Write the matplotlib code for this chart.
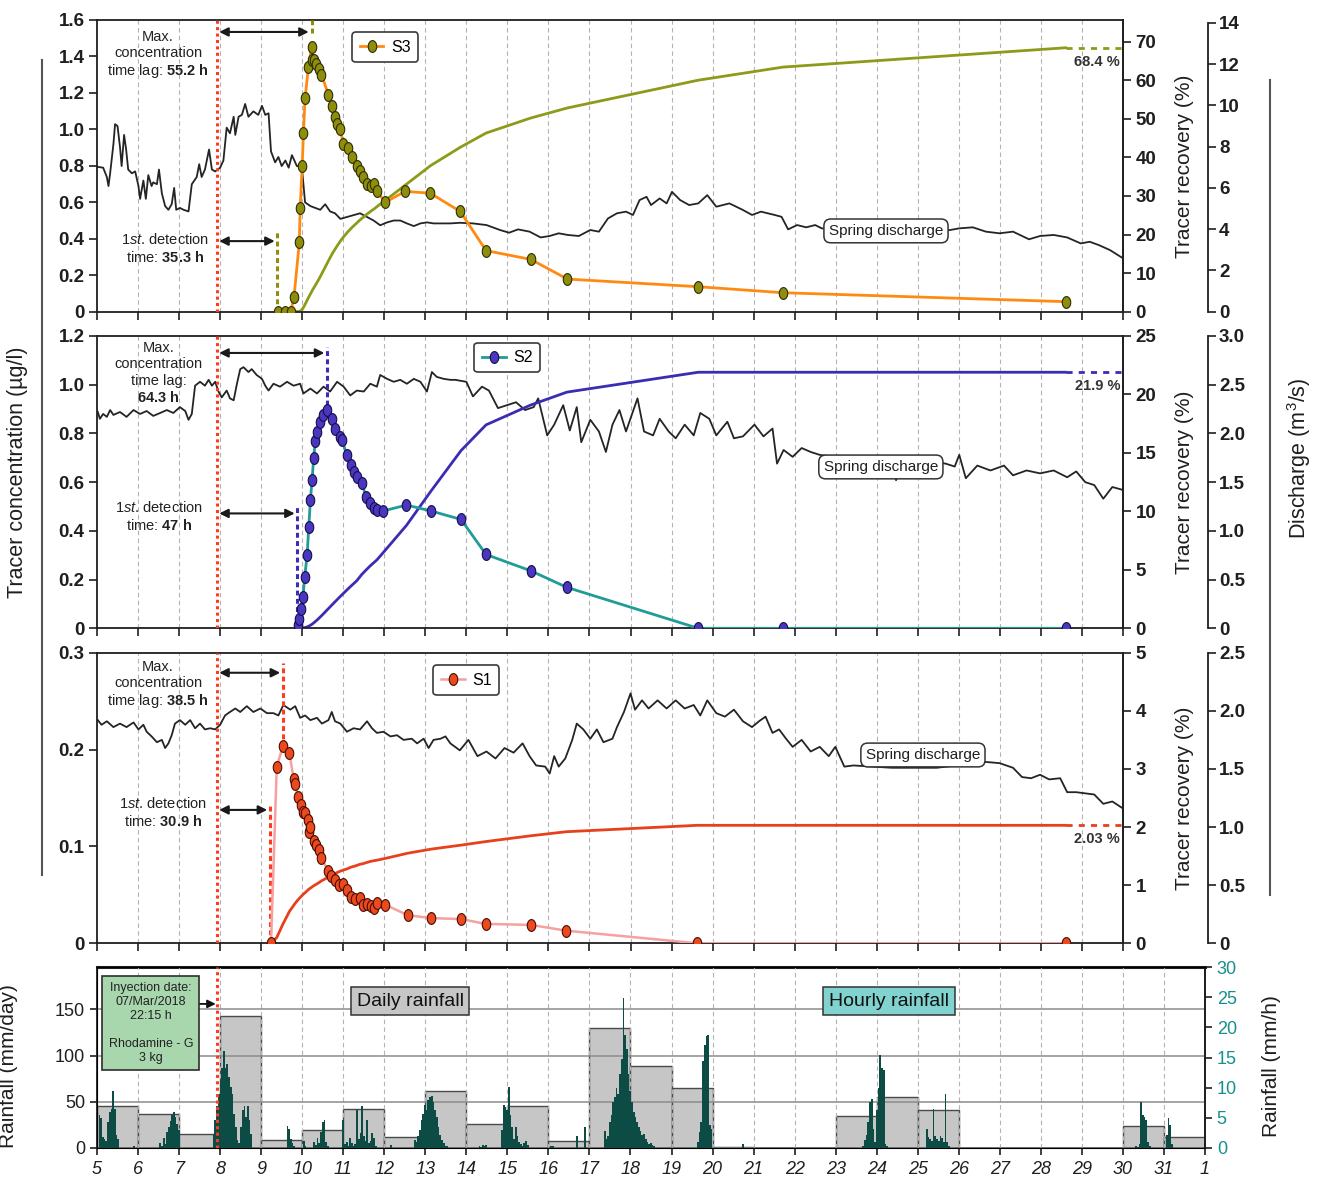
import numpy as np
import matplotlib
matplotlib.use("Agg")
import matplotlib.pyplot as plt
from matplotlib.path import Path
from matplotlib.lines import Line2D

plt.rcParams['font.family'] = ['Liberation Sans', 'DejaVu Sans']
plt.rcParams['mathtext.fontset'] = 'custom'
plt.rcParams['mathtext.rm'] = 'Liberation Sans'
plt.rcParams['mathtext.it'] = 'Liberation Sans:italic'
plt.rcParams['mathtext.bf'] = 'Liberation Sans:bold'

# ---------------------------------------------------------------- data
# time axis: day of March 2018 (day 32 = 1 April)
injection_day, injection_hour = 7, 22.25
t_inj = injection_day + injection_hour / 24.0

# hours after injection
lag_first = [35.3, 47, 30.9]      # S3, S2, S1
lag_max = [55.2, 64.3, 38.5]

# --- S3
s3_t = [9.41, 9.58, 9.72, 9.80, 9.93, 9.95, 10.00, 10.03, 10.07, 10.15,
        10.23, 10.25, 10.29, 10.34, 10.40, 10.47, 10.64, 10.73, 10.80, 10.86,
        10.93, 11.00, 11.12, 11.22, 11.34, 11.41, 11.49, 11.58, 11.68, 11.76,
        11.83, 12.02, 12.51, 13.12, 13.85, 14.48, 15.57, 16.46, 19.65, 21.72,
        28.60]
s3_conc = [0.0, 0.0, 0.0, 0.08, 0.38, 0.57, 0.80, 0.98, 1.17, 1.34,
           1.45, 1.38, 1.38, 1.36, 1.33, 1.30, 1.19, 1.13, 1.07, 1.03,
           1.00, 0.92, 0.90, 0.85, 0.80, 0.77, 0.74, 0.70, 0.69, 0.70,
           0.66, 0.60, 0.66, 0.65, 0.55, 0.335, 0.287, 0.179, 0.137, 0.104,
           0.055]
s3_recovery = [0, 0, 0, 0, 0.05, 0.1, 0.6, 1.1, 1.9, 3.6,
               5.2, 5.6, 6.3, 7.2, 8.3, 9.7, 13.2, 15.0, 16.2, 17.2,
               18.3, 19.3, 20.8, 21.9, 23.1, 23.8, 24.5, 25.3, 26.1, 26.7,
               27.3, 28.8, 32.8, 37.8, 42.6, 46.3, 50.2, 52.8, 60.0, 63.4,
               68.4]

# --- S2
s2_t = [9.89, 9.93, 9.98, 10.02, 10.06, 10.12, 10.16, 10.20, 10.24, 10.28,
        10.32, 10.36, 10.44, 10.50, 10.61, 10.72, 10.80, 10.91, 10.97, 11.09,
        11.20, 11.25, 11.33, 11.45, 11.56, 11.66, 11.74, 11.82, 11.98, 12.54,
        13.13, 13.87, 14.48, 15.57, 16.45, 19.65, 21.72, 28.60]
s2_conc = [0.013, 0.037, 0.078, 0.13, 0.21, 0.30, 0.417, 0.526, 0.608, 0.70,
           0.77, 0.806, 0.847, 0.875, 0.895, 0.861, 0.82, 0.786, 0.772, 0.711,
           0.67, 0.642, 0.622, 0.595, 0.54, 0.513, 0.492, 0.485, 0.482, 0.506,
           0.482, 0.447, 0.303, 0.236, 0.168, 0.0, 0.0, 0.0]
s2_recovery = [0, 0, 0.01, 0.03, 0.06, 0.12, 0.18, 0.26, 0.35, 0.46,
               0.58, 0.7, 0.97, 1.18, 1.58, 1.98, 2.27, 2.66, 2.87, 3.28,
               3.65, 3.81, 4.07, 4.6, 5.0, 5.35, 5.6, 5.85, 6.5, 8.8,
               11.7, 15.2, 17.4, 19.1, 20.2, 21.9, 21.9, 21.9]

# --- S1
s1_t = [9.24, 9.38, 9.53, 9.69, 9.79, 9.83, 9.90, 9.98, 10.02, 10.07,
        10.13, 10.16, 10.20, 10.28, 10.33, 10.40, 10.46, 10.64, 10.71, 10.80,
        10.89, 11.00, 11.09, 11.19, 11.29, 11.41, 11.48, 11.57, 11.67, 11.74,
        11.82, 12.02, 12.57, 13.14, 13.88, 14.47, 15.57, 16.44, 19.63, 28.60]
s1_conc = [0.0, 0.182, 0.204, 0.196, 0.170, 0.164, 0.151, 0.143, 0.136, 0.134,
           0.127, 0.115, 0.120, 0.106, 0.101, 0.096, 0.088, 0.075, 0.069, 0.065,
           0.060, 0.061, 0.055, 0.048, 0.046, 0.047, 0.040, 0.041, 0.038, 0.036,
           0.042, 0.040, 0.029, 0.026, 0.025, 0.020, 0.019, 0.013, 0.0, 0.0]
s1_recovery = [0, 0.1, 0.33, 0.55, 0.65, 0.69, 0.75, 0.81, 0.84, 0.87,
               0.91, 0.93, 0.95, 0.99, 1.01, 1.04, 1.07, 1.14, 1.17, 1.20,
               1.23, 1.26, 1.28, 1.31, 1.33, 1.36, 1.37, 1.39, 1.41, 1.42,
               1.43, 1.46, 1.55, 1.62, 1.69, 1.75, 1.85, 1.92, 2.03, 2.03]

# --- spring discharge (m3/s)
q3_day = [5.02, 5.15, 5.24, 5.28, 5.32, 5.40, 5.44, 5.50, 5.56, 5.60,
          5.66, 5.71, 5.76, 5.85, 5.93, 6.01, 6.05, 6.13, 6.19, 6.25,
          6.33, 6.37, 6.46, 6.51, 6.58, 6.66, 6.74, 6.82, 6.88, 6.93,
          7.02, 7.11, 7.23, 7.31, 7.43, 7.49, 7.55, 7.63, 7.73, 7.80,
          7.88, 8.00, 8.08, 8.16, 8.24, 8.33, 8.37, 8.45, 8.53, 8.61,
          8.69, 8.81, 8.93, 9.02, 9.10, 9.18, 9.24, 9.34, 9.42, 9.50,
          9.59, 9.67, 9.75, 9.87, 9.99, 10.07, 10.20, 10.32, 10.44, 10.56,
          10.68, 10.80, 10.93, 11.09, 11.25, 11.41, 11.58, 11.74, 11.90, 12.07,
          12.23, 12.39, 12.55, 12.72, 12.88, 13.04, 13.20, 13.37, 13.61, 13.84,
          14.16, 14.49, 14.82, 15.04, 15.26, 15.54, 15.81, 16.03, 16.25, 16.47,
          16.74, 17.02, 17.23, 17.45, 17.67, 17.89, 18.06, 18.22, 18.39, 18.50,
          18.71, 18.88, 19.01, 19.21, 19.43, 19.65, 19.87, 20.09, 20.41, 20.74,
          20.96, 21.18, 21.51, 21.68, 21.84, 22.06, 22.28, 22.50, 22.66, 23.20,
          23.81, 24.40, 24.91, 25.40, 25.79, 26.01, 26.34, 26.66, 26.99, 27.32,
          27.71, 27.98, 28.31, 28.64, 28.97, 29.19, 29.41, 29.68, 30.0]
q3_val = [7.02, 6.98, 6.53, 6.09, 6.71, 8.12, 9.09, 9.0, 7.99, 7.06,
          8.57, 7.86, 6.89, 6.71, 6.8, 6.09, 5.47, 6.36, 5.47, 6.62,
          6.09, 6.27, 6.18, 6.89, 5.74, 5.12, 4.94, 5.21, 6.0, 4.94,
          5.03, 4.94, 4.86, 6.18, 6.53, 7.15, 6.53, 6.89, 7.86, 6.89,
          6.8, 6.98, 7.33, 8.92, 8.65, 9.45, 8.57, 9.45, 9.54, 10.07,
          9.45, 9.71, 9.54, 9.98, 9.54, 9.62, 7.77, 7.24, 7.5, 7.06,
          7.33, 6.98, 7.59, 7.06, 7.06, 5.3, 5.12, 5.03, 4.94, 5.21,
          4.86, 4.77, 4.5, 4.59, 4.68, 4.77, 4.59, 4.42, 4.19, 4.33,
          4.42, 4.42, 4.28, 4.15, 4.28, 4.33, 4.28, 4.28, 4.28, 4.31,
          4.28, 4.2, 3.96, 3.83, 3.99, 3.88, 3.6, 3.67, 3.8, 3.72,
          3.67, 3.96, 3.88, 4.52, 4.77, 4.85, 4.69, 5.41, 5.57, 5.17,
          5.49, 5.25, 5.81, 5.41, 5.17, 5.25, 5.65, 5.09, 5.25, 4.93,
          4.69, 4.85, 4.69, 4.6, 3.99, 4.2, 4.09, 4.2, 4.04, 3.95,
          3.88, 3.92, 3.88, 3.92, 3.96, 4.04, 4.09, 3.88, 3.8, 3.88,
          3.51, 3.67, 3.72, 3.6, 3.31, 3.39, 3.23, 2.99, 2.59]

q2_day = [5.02, 5.07, 5.15, 5.24, 5.32, 5.40, 5.56, 5.72, 5.89, 6.05,
          6.21, 6.37, 6.54, 6.70, 6.86, 7.02, 7.15, 7.23, 7.31, 7.39,
          7.51, 7.63, 7.72, 7.80, 7.88, 7.96, 8.04, 8.16, 8.24, 8.33,
          8.41, 8.49, 8.57, 8.69, 8.77, 8.89, 9.02, 9.10, 9.18, 9.30,
          9.46, 9.63, 9.79, 9.95, 10.03, 10.20, 10.36, 10.52, 10.68, 10.85,
          11.01, 11.17, 11.33, 11.50, 11.66, 11.82, 11.90, 12.07, 12.23, 12.39,
          12.55, 12.72, 12.88, 13.04, 13.16, 13.28, 13.45, 13.61, 13.73, 14.00,
          14.16, 14.38, 14.55, 14.77, 14.99, 15.21, 15.43, 15.64, 15.75, 15.97,
          16.14, 16.36, 16.52, 16.69, 16.80, 17.02, 17.23, 17.40, 17.56, 17.73,
          17.89, 18.17, 18.33, 18.55, 18.71, 18.93, 19.10, 19.32, 19.54, 19.70,
          19.92, 20.09, 20.36, 20.52, 20.74, 21.02, 21.24, 21.46, 21.57, 21.73,
          21.95, 22.17, 22.39, 22.61, 23.16, 23.81, 24.36, 24.47, 24.58, 25.13,
          25.68, 25.90, 26.01, 26.17, 26.45, 26.77, 27.10, 27.32, 27.65, 27.98,
          28.31, 28.64, 28.86, 29.08, 29.30, 29.52, 29.74, 30.0]
q2_val = [2.22, 2.15, 2.20, 2.17, 2.24, 2.19, 2.22, 2.17, 2.24, 2.20,
          2.23, 2.18, 2.21, 2.24, 2.21, 2.27, 2.23, 2.14, 2.20, 2.49,
          2.53, 2.49, 2.55, 2.49, 2.53, 2.43, 2.37, 2.44, 2.36, 2.34,
          2.51, 2.66, 2.68, 2.63, 2.66, 2.60, 2.56, 2.49, 2.44, 2.51,
          2.48, 2.53, 2.49, 2.51, 2.41, 2.46, 2.41, 2.48, 2.43, 2.53,
          2.48, 2.39, 2.44, 2.43, 2.51, 2.48, 2.60, 2.56, 2.53, 2.55,
          2.51, 2.56, 2.53, 2.43, 2.63, 2.58, 2.56, 2.55, 2.55, 2.53,
          2.38, 2.48, 2.44, 2.26, 2.29, 2.32, 2.24, 2.27, 2.36, 1.98,
          2.09, 2.29, 2.03, 2.27, 1.91, 2.14, 2.02, 1.81, 2.09, 2.24,
          2.02, 2.36, 2.02, 1.98, 2.15, 2.02, 1.95, 2.09, 1.98, 2.21,
          2.15, 1.98, 2.12, 1.95, 1.97, 2.09, 1.97, 2.05, 1.69, 1.83,
          1.76, 1.85, 1.81, 1.78, 1.75, 1.74, 1.72, 1.52, 1.70, 1.72,
          1.69, 1.66, 1.78, 1.54, 1.67, 1.62, 1.67, 1.57, 1.62, 1.59,
          1.62, 1.55, 1.61, 1.50, 1.47, 1.33, 1.45, 1.42]

q1_day = [5.02, 5.11, 5.24, 5.40, 5.56, 5.72, 5.89, 6.01, 6.13, 6.21,
          6.33, 6.46, 6.58, 6.66, 6.74, 6.82, 6.90, 7.02, 7.15, 7.27,
          7.39, 7.51, 7.63, 7.76, 7.88, 8.00, 8.12, 8.24, 8.37, 8.49,
          8.65, 8.81, 8.98, 9.14, 9.30, 9.42, 9.54, 9.71, 9.83, 9.95,
          10.07, 10.20, 10.36, 10.48, 10.64, 10.72, 10.80, 10.93, 11.09, 11.25,
          11.41, 11.58, 11.70, 11.82, 11.98, 12.15, 12.31, 12.47, 12.67, 12.80,
          12.96, 13.08, 13.20, 13.37, 13.49, 13.61, 13.84, 14.05, 14.27, 14.49,
          14.71, 14.93, 15.15, 15.37, 15.54, 15.70, 15.92, 16.03, 16.14, 16.25,
          16.41, 16.58, 16.69, 16.85, 17.02, 17.18, 17.34, 17.56, 17.67, 17.84,
          18.00, 18.11, 18.28, 18.44, 18.66, 18.88, 19.10, 19.32, 19.54, 19.70,
          19.87, 20.09, 20.30, 20.52, 20.74, 20.96, 21.13, 21.29, 21.46, 21.62,
          21.79, 21.95, 22.17, 22.39, 22.61, 22.83, 22.99, 23.21, 23.43, 24.36,
          25.46, 26.66, 26.99, 27.32, 27.54, 27.76, 27.98, 28.20, 28.47, 28.64,
          28.86, 29.08, 29.30, 29.52, 29.74, 30.0]
q1_val = [1.92, 1.88, 1.91, 1.86, 1.89, 1.86, 1.90, 1.84, 1.88, 1.82,
          1.78, 1.73, 1.75, 1.68, 1.72, 1.79, 1.89, 1.92, 1.88, 1.92,
          1.85, 1.89, 1.84, 1.85, 1.84, 1.88, 1.96, 1.99, 2.02, 1.99,
          2.04, 1.99, 2.02, 1.98, 1.98, 1.96, 2.05, 2.01, 2.04, 1.94,
          1.96, 1.92, 1.94, 1.89, 1.92, 1.99, 1.91, 1.89, 1.82, 1.85,
          1.84, 1.91, 1.85, 1.81, 1.82, 1.78, 1.79, 1.75, 1.76, 1.72,
          1.76, 1.68, 1.75, 1.76, 1.78, 1.72, 1.66, 1.75, 1.61, 1.65,
          1.59, 1.68, 1.64, 1.72, 1.61, 1.53, 1.52, 1.46, 1.61, 1.52,
          1.59, 1.75, 1.89, 1.84, 1.76, 1.84, 1.73, 1.76, 1.86, 1.99,
          2.15, 2.01, 2.09, 2.02, 2.09, 2.02, 2.09, 2.02, 2.05, 1.96,
          2.09, 1.98, 1.95, 2.01, 1.91, 1.86, 1.91, 1.95, 1.81, 1.84,
          1.76, 1.69, 1.75, 1.65, 1.69, 1.61, 1.69, 1.52, 1.53, 1.51,
          1.51, 1.56, 1.55, 1.51, 1.43, 1.42, 1.45, 1.41, 1.42, 1.30,
          1.30, 1.29, 1.28, 1.20, 1.22, 1.16]

# --- rainfall
rain_days = list(range(5, 32))
daily_rain = [46, 37, 15, 143, 9, 20, 42, 12, 62, 26, 45, 8, 130, 89, 65,
              1, 0, 0, 35, 55, 41, 0, 0, 0, 0, 24, 12]
hourly_start = [5.04, 5.88, 6.52, 7.82, 9.62, 10.02, 10.27, 10.98, 12.15, 12.72,
                14.30, 14.85, 16.05, 16.67, 16.87, 17.35, 19.62, 20.72, 23.65,
                25.20, 30.30, 31.05]
hourly_rain = [
    [5.4, 5.0, 1.8, 1.5, 1.2, 4.3, 6.0, 6.5, 9.5, 6.5, 2.2, 1.5],
    [0.3],
    [0.8, 0.3, 1.6, 0.6, 2.6, 3.5, 4.5, 5.4, 6.0, 5.1, 4.0, 3.0],
    [2.4, 4.6, 6.9, 9.0, 11.2, 13.3, 16.1, 13.2, 13.9, 11.8, 10.1, 9.0,
     5.7, 3.5, 1.4, 0.8, 3.5, 6.3, 6.9, 5.2, 6.9, 4.6, 2.4],
    [3.6, 3.2, 1.5, 0.8, 0.3],
    [1.2, 0.4],
    [1.0, 0.5, 1.6, 0.8, 2.7, 4.3, 4.6, 1.0, 0.3],
    [4.6, 0.6, 1.0, 0.4, 1.6, 0.8, 0.4, 0.6, 6.3, 1.5, 2.5, 6.9, 2.0, 1.2,
     4.6, 0.8, 1.2, 2.5, 1.6, 0.4],
    [0.5],
    [1.4, 1.0, 2.0, 3.0, 4.6, 5.7, 7.1, 6.3, 7.9, 8.5, 8.7, 7.6, 6.3, 5.2,
     3.5, 2.2, 1.4, 0.8, 0.4, 0.3],
    [0.4, 0.2, 0.5, 0.3, 0.5],
    [3.0, 7.1, 6.8, 6.3, 10.1, 5.5, 3.5, 1.5, 3.5, 2.0, 1.0, 0.6, 0.3, 0.8,
     1.1, 0.5],
    [0.4, 0.3],
    [2.0],
    [3.5],
    [2.9, 1.5, 2.0, 4.3, 5.5, 7.6, 8.5, 10.0, 9.0, 12.2, 14.7, 24.9, 18.8,
     16.4, 12.2, 9.5, 7.6, 6.0, 5.2, 4.3, 3.5, 2.8, 2.1, 2.3, 1.5, 1.0, 0.6,
     0.8, 0.5, 0.3],
    [1.0, 2.7, 4.3, 14.4, 17.1, 18.5, 18.8, 3.8, 3.2],
    [0.6],
    [0.4, 1.3, 2.1, 4.3, 7.6, 8.2, 3.2, 1.0, 6.3, 9.9, 15.4, 13.2, 13.0, 0.7, 0.3],
    [3.2, 1.8, 1.5, 1.2, 6.5, 2.0, 1.5, 1.2, 2.0, 1.6, 1.0, 9.0, 1.0, 0.4],
    [0.4, 0.2, 0.6, 7.7, 5.4, 5.2, 4.6, 1.0, 0.4],
    [2.1, 4.9, 3.8, 0.6],
]
day_ticks = list(range(5, 33))
day_tick_labels = [str(d) for d in range(5, 32)] + ['1']

# ---------------------------------------------------------------- figure
W, H = 1320, 1186
fig = plt.figure(figsize=(W / 100, H / 100), dpi=100)
PX = 72.0 / 100          # points per pixel


def rect(top, bottom, left=97, right=1123):
    return [left / W, 1 - bottom / H, (right - left) / W, (bottom - top) / H]


theta = np.linspace(0, 2 * np.pi, 41)
oval = Path(np.column_stack([0.72 * np.cos(theta), np.sin(theta)]), closed=True)

INK = '#1f1f1f'
RED_INJ = '#ff3b1f'


def fmt(v, nd):
    return '0' if v == 0 else f'{v:.{nd}f}'


panels = [
    dict(name='S3', top=20, bottom=311.7, t=s3_t, c=s3_conc, r=s3_recovery,
         qd=q3_day, qv=q3_val, lag_f=lag_first[0], lag_m=lag_max[0],
         cmax=1.6, cticks=np.arange(0, 1.61, 0.2), cnd=1,
         rmax=75.6, rticks=range(0, 71, 10),
         qmax=14.14, qtop=14, qticks=range(0, 15, 2), qnd=0,
         lc='#ff8a12', lw=2.0, mfc='#8e8e0c', mec='#2c2c00', rc='#8e9a1a', dc='#8e8e0c',
         leg=(0.281, 0.907), sd=(0.769, 0.277),
         top_txt=(0.0595, 0.880), bot_txt=(0.066, 0.215),
         top_arr=0.959, bot_arr=0.242, first_top=0.273, max_span=(0.955, 1.0),
         max_lines=3),
    dict(name='S2', top=336, bottom=628.3, t=s2_t, c=s2_conc, r=s2_recovery,
         qd=q2_day, qv=q2_val, lag_f=lag_first[1], lag_m=lag_max[1],
         cmax=1.2, cticks=np.arange(0, 1.21, 0.2), cnd=1,
         rmax=25, rticks=range(0, 26, 5),
         qmax=3.0, qtop=3.0, qticks=np.arange(0, 3.01, 0.5), qnd=1,
         lc='#1f9c98', lw=2.0, mfc='#4a37c0', mec='#160c4a', rc='#3b2db3', dc='#3b2db3',
         leg=(0.40, 0.926), sd=(0.764, 0.552),
         top_txt=(0.060, 0.873), bot_txt=(0.060, 0.381),
         top_arr=0.942, bot_arr=0.393, first_top=0.422, max_span=(0.764, 0.963),
         max_lines=4),
    dict(name='S1', top=652.7, bottom=943.3, t=s1_t, c=s1_conc, r=s1_recovery,
         qd=q1_day, qv=q1_val, lag_f=lag_first[2], lag_m=lag_max[2],
         cmax=0.3, cticks=np.arange(0, 0.31, 0.1), cnd=1,
         rmax=5, rticks=range(0, 6, 1),
         qmax=2.5, qtop=2.5, qticks=np.arange(0, 2.51, 0.5), qnd=1,
         lc='#f7a0a0', lw=1.8, mfc='#ea4a1e', mec='#4a0c00', rc='#e8401c', dc='#ff3b1f',
         leg=(0.36, 0.906), sd=(0.805, 0.648),
         top_txt=(0.0595, 0.889), bot_txt=(0.064, 0.450),
         top_arr=0.931, bot_arr=0.459, first_top=0.476, max_span=(0.675, 0.965),
         max_lines=3),
]

TICK_KW = dict(fontsize=13.5, fontweight='bold', color=INK)

for p in panels:
    ax = fig.add_axes(rect(p['top'], p['bottom']))
    axq = ax.twinx()
    axr = ax.twinx()
    axq.set_zorder(1)
    axr.set_zorder(2)
    ax.set_zorder(3)
    ax.patch.set_visible(False)
    axq.patch.set_visible(True)
    axq.patch.set_facecolor('white')
    ax.set_xlim(5, 30)

    # day grid
    for d in range(6, 30):
        axq.axvline(d, color='#b3b3b3', lw=0.8, ls=(0, (4, 3)), zorder=0)

    # discharge
    axq.plot(p['qd'], p['qv'], color='#242424', lw=1.3, zorder=2)
    axq.set_ylim(0, p['qmax'])
    for s in ('left', 'top', 'bottom'):
        axq.spines[s].set_visible(False)
    axq.spines['right'].set_position(('outward', 85 * PX))
    axq.spines['right'].set_bounds(0, p['qtop'])
    axq.spines['right'].set_linewidth(1.3)
    axq.spines['right'].set_color(INK)
    axq.set_yticks(list(p['qticks']))
    axq.set_yticklabels([fmt(v, p['qnd']) for v in p['qticks']], **TICK_KW)
    axq.tick_params(axis='y', direction='out', length=6, width=1.2, pad=2, colors=INK)
    axq.text(p['sd'][0], p['sd'][1], 'Spring discharge', transform=axq.transAxes,
             ha='center', va='center', fontsize=11, color=INK, zorder=6,
             bbox=dict(boxstyle='round,pad=0.32,rounding_size=0.45', fc='white',
                       ec='#333333', lw=1.1))

    # cumulative recovery
    axr.plot(p['t'], p['r'], color=p['rc'], lw=2.0, zorder=3)
    axr.plot([p['t'][-1], 30], [p['r'][-1], p['r'][-1]], color=p['rc'], lw=2.0,
             ls=(0, (2.2, 2.2)), zorder=3)
    axr.set_ylim(0, p['rmax'])
    for s in ('left', 'top', 'bottom'):
        axr.spines[s].set_visible(False)
    axr.spines['right'].set_linewidth(1.3)
    axr.spines['right'].set_color(INK)
    axr.set_yticks(list(p['rticks']))
    axr.set_yticklabels([str(v) for v in p['rticks']], **TICK_KW)
    axr.tick_params(axis='y', direction='out', length=6, width=1.2, pad=3, colors=INK)
    axr.set_ylabel('Tracer recovery (%)', fontsize=15, color=INK)
    axr.yaxis.set_label_coords(1.0505, 0.5)
    axr.annotate(f"{p['r'][-1]:g} %", xy=(29.93, p['r'][-1]), xytext=(0, -10),
                 textcoords='offset points', ha='right', va='center',
                 fontsize=10.5, fontweight='bold', color='#333333')

    # concentration
    line, = ax.plot(p['t'], p['c'], color=p['lc'], lw=p['lw'], marker=oval, ms=8.5,
                    mfc=p['mfc'], mec=p['mec'], mew=0.8, label=p['name'], zorder=5)
    ax.set_ylim(0, p['cmax'])
    ax.set_yticks(list(p['cticks']))
    ax.set_yticklabels([fmt(v, p['cnd']) for v in p['cticks']], **TICK_KW)
    ax.set_xticks(range(5, 31))
    ax.tick_params(axis='y', direction='out', length=6, width=1.2, pad=3, colors=INK)
    ax.tick_params(axis='x', direction='out', length=6, width=1.2, labelbottom=False,
                   colors=INK)
    for s in ax.spines.values():
        s.set_linewidth(1.3)
        s.set_color(INK)

    leg = ax.legend(handles=[line], loc='center', bbox_to_anchor=p['leg'],
                    fontsize=11.5, frameon=True, fancybox=True, framealpha=1,
                    edgecolor='#3a3a3a', handlelength=1.5, handletextpad=0.5,
                    borderpad=0.45, borderaxespad=0)
    leg.get_frame().set_linewidth(1.2)

    # injection time and arrival markers
    t_first = t_inj + p['lag_f'] / 24.0
    t_max = t_inj + p['lag_m'] / 24.0
    ax.axvline(t_inj, color=RED_INJ, lw=2.2, ls=(0, (1, 1.1)), zorder=4)
    ax.axvline(t_first, ymin=0, ymax=p['first_top'], color=p['dc'], lw=2.2,
               ls=(0, (1.6, 1.1)), zorder=4)
    ax.axvline(t_max, ymin=p['max_span'][0], ymax=p['max_span'][1], color=p['dc'],
               lw=2.2, ls=(0, (1.6, 1.1)), zorder=4)
    arrow = dict(arrowstyle='<|-|>', color='#1a1a1a', lw=1.5, mutation_scale=13,
                 shrinkA=1.5, shrinkB=2)
    ax.annotate('', xy=(t_max, p['top_arr']), xytext=(t_inj, p['top_arr']),
                xycoords=('data', 'axes fraction'), arrowprops=arrow)
    ax.annotate('', xy=(t_first, p['bot_arr']), xytext=(t_inj, p['bot_arr']),
                xycoords=('data', 'axes fraction'), arrowprops=arrow)

    lag_m_txt = r'$\mathbf{%s\ h}$' % f"{p['lag_m']:g}"
    if p['max_lines'] == 4:
        top_s = 'Max.\nconcentration\ntime lag:\n' + lag_m_txt
    else:
        top_s = 'Max.\nconcentration\ntime lag: ' + lag_m_txt
    ax.text(*p['top_txt'], top_s, transform=ax.transAxes, ha='center', va='center',
            fontsize=10.5, linespacing=1.2, color='#222222')
    bot_s = (r'1$\mathit{st}$. detection' + '\ntime: ' +
             r'$\mathbf{%s\ h}$' % f"{p['lag_f']:g}")
    ax.text(*p['bot_txt'], bot_s, transform=ax.transAxes, ha='center', va='center',
            fontsize=10.5, linespacing=1.25, color='#222222')

# ---------------------------------------------------------------- rainfall
axd = fig.add_axes(rect(967, 1148, 97, 1205))
axh = axd.twinx()
axd.set_xlim(5, 32)
axd.set_ylim(0, 196)
axd.bar(rain_days, daily_rain, width=1, align='edge', color='#c6c6c6',
        edgecolor='#4a4a4a', lw=1.0, zorder=1)
axd.set_axisbelow(False)
axd.set_yticks([0, 50, 100, 150])
axd.set_yticklabels(['0', '50', '100', '150'], fontsize=13, color=INK)
axd.yaxis.grid(True, color='#8c8c8c', lw=1.1)
axd.set_xticks(day_ticks)
axd.set_xticklabels(day_tick_labels, fontsize=13, fontstyle='italic', color=INK)
axd.xaxis.grid(True, color='#b3b3b3', lw=0.8, ls=(0, (4, 3)))
axd.tick_params(axis='both', direction='out', length=5, width=1.2, colors=INK)
axd.tick_params(axis='x', pad=4)
for s in axd.spines.values():
    s.set_linewidth(1.3)
    s.set_color(INK)
axd.spines['top'].set_linewidth(2.2)
axd.set_ylabel('Rainfall (mm/day)', fontsize=15, color=INK)
axd.yaxis.set_label_coords(-0.0713, 0.45)

h_t, h_v = [], []
for start, vals in zip(hourly_start, hourly_rain):
    for i, v in enumerate(vals):
        h_t.append(start + i / 24.0)
        h_v.append(v)
axh.bar(h_t, h_v, width=1 / 24.0, align='edge', color='#0c4c45', lw=0, zorder=3)
axh.set_ylim(0, 30)
axh.set_yticks(range(0, 31, 5))
axh.set_yticklabels([str(v) for v in range(0, 31, 5)], fontsize=13, color='#17908c')
axh.tick_params(axis='y', direction='out', length=5, width=1.2, color=INK)
axh.spines['right'].set_linewidth(1.3)
axh.spines['right'].set_color(INK)
axh.set_ylabel('Rainfall (mm/h)', fontsize=15, color=INK)
axh.yaxis.set_label_coords(1.0514, 0.45)
axh.axvline(t_inj, color=RED_INJ, lw=2.2, ls=(0, (1, 1.1)), zorder=4)

axd.text(0.0487, 0.69, 'Inyection date:\n07/Mar/2018\n22:15 h\n\nRhodamine - G\n3 kg',
         transform=axd.transAxes, ha='center', va='center', fontsize=9,
         linespacing=1.22, color='#222222', zorder=6,
         bbox=dict(boxstyle='square,pad=0.5', fc='#a8d6ad', ec='#2d2d2d', lw=1.2))
axd.annotate('', xy=(t_inj, 0.796), xytext=(7.5, 0.796),
             xycoords=('data', 'axes fraction'),
             arrowprops=dict(arrowstyle='-|>', color='#111111', lw=1.3,
                             mutation_scale=12, shrinkA=0, shrinkB=1))
axd.text(0.2825, 0.812, 'Daily rainfall', transform=axd.transAxes, ha='center',
         va='center', fontsize=14, color='#111111', zorder=6,
         bbox=dict(boxstyle='square,pad=0.3', fc='#c6c6c6', ec='#333333', lw=1.1))
axd.text(0.715, 0.812, 'Hourly rainfall', transform=axd.transAxes, ha='center',
         va='center', fontsize=14, color='#111111', zorder=6,
         bbox=dict(boxstyle='square,pad=0.3', fc='#80d3cf', ec='#333333', lw=1.1))

# ---------------------------------------------------------------- shared labels
fig.add_artist(Line2D([42 / W, 42 / W], [1 - 60 / H, 1 - 875 / H], color='#555555', lw=1.5))
fig.add_artist(Line2D([1270 / W, 1270 / W], [1 - 80 / H, 1 - 895 / H], color='#555555', lw=1.5))
fig.text(18 / W, 1 - 472 / H, 'Tracer concentration (\u00b5g/l)', rotation=90,
         ha='center', va='center', fontsize=15.5, color=INK)
fig.text(1299 / W, 1 - 458 / H, 'Discharge (m$^3$/s)', rotation=90,
         ha='center', va='center', fontsize=15.5, color=INK)

fig.savefig('out.png', dpi=100)
